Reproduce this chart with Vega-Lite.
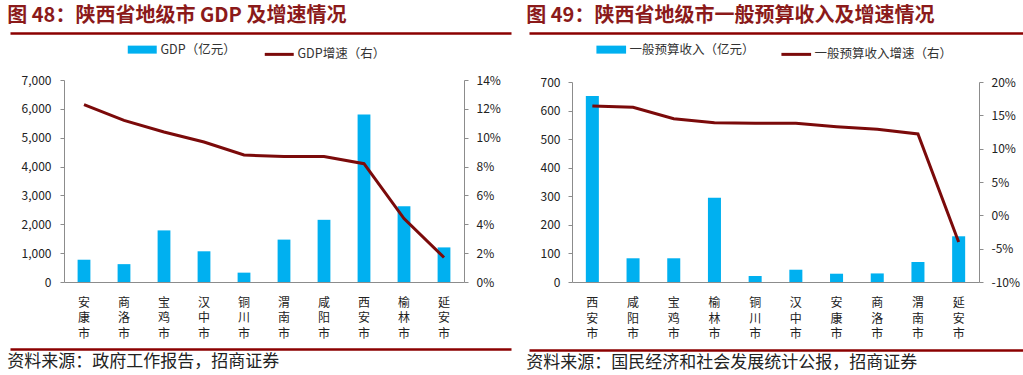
{
  "$schema": "https://vega.github.io/schema/vega-lite/v6.json",
  "padding": {"left": 7, "top": 5, "right": 0, "bottom": 0},
  "background": "white",
  "spacing": 12,
  "resolve": {"scale": {"color": "independent"}, "legend": {"color": "independent"}},
  "config": {
    "view": {"stroke": null},
    "font": "Noto Sans CJK SC",
    "axis": {"grid": false, "labelColor": "#222", "domainColor": "#8c8c8c", "tickColor": "#8c8c8c", "labelFontSize": 12, "titleFontSize": 12},
    "legend": {"layout": {"top": {"anchor": "middle"}}}
  },
  "hconcat": [
    {
      "columns": 1,
      "align": "none",
      "spacing": 7,
      "resolve": {"scale": {"color": "independent"}, "legend": {"color": "independent"}},
      "concat": [
        {
          "width": 501,
          "height": 1,
          "title": {"text": "图 48：陕西省地级市 GDP 及增速情况", "anchor": "start", "fontSize": 20, "color": "#8B1A1A", "fontWeight": "bold", "offset": 4},
          "data": {"values": [{"v": 0}, {"v": 1}]},
          "mark": {"type": "point", "opacity": 0},
          "encoding": {"x": {"field": "v", "type": "quantitative", "scale": {"domain": [0, 1], "nice": false}, "axis": {"domainColor": "#8B0000", "domainWidth": 2.5, "ticks": false, "labels": false, "title": null}}}
        },
        {
          "width": 501,
          "height": 202,
          "data": {"values": [
            {"city": "安康市", "gdp": 772, "growth": 0.123},
            {"city": "商洛市", "gdp": 619, "growth": 0.112},
            {"city": "宝鸡市", "gdp": 1788, "growth": 0.104},
            {"city": "汉中市", "gdp": 1064, "growth": 0.097},
            {"city": "铜川市", "gdp": 324, "growth": 0.088},
            {"city": "渭南市", "gdp": 1469, "growth": 0.087},
            {"city": "咸阳市", "gdp": 2155, "growth": 0.087},
            {"city": "西安市", "gdp": 5801, "growth": 0.082},
            {"city": "榆林市", "gdp": 2621, "growth": 0.044},
            {"city": "延安市", "gdp": 1199, "growth": 0.017}
          ]},
          "encoding": {"x": {"field": "city", "type": "nominal", "sort": null, "scale": {"range": [54, 454], "paddingInner": 0, "paddingOuter": 0},
            "axis": {"title": null, "ticks": false, "labelAngle": 0, "labelExpr": "split(datum.label, '')", "labelLineHeight": 15.5, "labelPadding": 15, "labelBaseline": "top", "labelFontSize": 12}}},
          "layer": [
            {
              "mark": {"type": "bar", "width": {"band": 0.32}},
              "encoding": {
                "y": {"field": "gdp", "type": "quantitative", "scale": {"domain": [0, 7000]},
                  "axis": {"title": null, "offset": -54, "values": [0, 1000, 2000, 3000, 4000, 5000, 6000, 7000], "format": ",.0f", "tickSize": 4, "labelPadding": 9}},
                "color": {"datum": "GDP（亿元）", "scale": {"domain": ["GDP（亿元）", "GDP增速（右）"], "range": ["#00B0F0", "#7B0A0A"]},
                  "legend": {"orient": "top", "title": null, "direction": "horizontal", "symbolType": "stroke", "symbolSize": 840, "labelFontSize": 12.5, "labelColor": "#333", "columnPadding": 22, "labelOffset": 12, "offset": 14.5,
                    "encode": {"symbols": {"update": {"stroke": {"signal": "datum.value === 'GDP（亿元）' ? '#00B0F0' : '#7B0A0A'"}, "strokeWidth": {"signal": "datum.value === 'GDP（亿元）' ? 8 : 3"}, "fill": {"value": "transparent"}, "strokeCap": {"value": "butt"}}}}}}
              }
            },
            {
              "mark": {"type": "line", "strokeWidth": 3},
              "encoding": {
                "y": {"field": "growth", "type": "quantitative", "scale": {"domain": [0, 0.14]},
                  "axis": {"title": null, "orient": "right", "offset": -47, "values": [0, 0.02, 0.04, 0.06, 0.08, 0.1, 0.12, 0.14], "format": ".0%", "tickSize": 4, "labelPadding": 8}},
                "color": {"datum": "GDP增速（右）"}
              }
            }
          ],
          "resolve": {"scale": {"y": "independent"}}
        },
        {
          "width": 501,
          "height": 1,
          "title": {"text": "资料来源：政府工作报告，招商证券", "orient": "bottom", "anchor": "start", "fontSize": 17, "color": "#222", "fontWeight": "normal", "offset": 2},
          "data": {"values": [{"v": 0}, {"v": 1}]},
          "mark": {"type": "point", "opacity": 0},
          "encoding": {"x": {"field": "v", "type": "quantitative", "scale": {"domain": [0, 1], "nice": false}, "axis": {"orient": "top", "domainColor": "#8B0000", "domainWidth": 2.5, "ticks": false, "labels": false, "title": null}}}
        }
      ]
    },
    {
      "columns": 1,
      "align": "none",
      "spacing": 7,
      "resolve": {"scale": {"color": "independent"}, "legend": {"color": "independent"}},
      "concat": [
        {
          "width": 500,
          "height": 1,
          "title": {"text": "图 49：陕西省地级市一般预算收入及增速情况", "anchor": "start", "fontSize": 20, "color": "#8B1A1A", "fontWeight": "bold", "offset": 4},
          "data": {"values": [{"v": 0}, {"v": 1}]},
          "mark": {"type": "point", "opacity": 0},
          "encoding": {"x": {"field": "v", "type": "quantitative", "scale": {"domain": [0, 1], "nice": false}, "axis": {"domainColor": "#8B0000", "domainWidth": 2.5, "ticks": false, "labels": false, "title": null}}}
        },
        {
          "width": 500,
          "height": 200,
          "data": {"values": [
            {"city": "西安市", "rev": 651, "growth": 0.164},
            {"city": "咸阳市", "rev": 83, "growth": 0.162},
            {"city": "宝鸡市", "rev": 83, "growth": 0.145},
            {"city": "榆林市", "rev": 295, "growth": 0.139},
            {"city": "铜川市", "rev": 21, "growth": 0.138},
            {"city": "汉中市", "rev": 43, "growth": 0.138},
            {"city": "安康市", "rev": 29, "growth": 0.133},
            {"city": "商洛市", "rev": 30, "growth": 0.129},
            {"city": "渭南市", "rev": 70, "growth": 0.122},
            {"city": "延安市", "rev": 160, "growth": -0.04}
          ]},
          "encoding": {"x": {"field": "city", "type": "nominal", "sort": null, "scale": {"range": [43, 450], "paddingInner": 0, "paddingOuter": 0},
            "axis": {"title": null, "ticks": false, "labelAngle": 0, "labelExpr": "split(datum.label, '')", "labelLineHeight": 15.5, "labelPadding": 15.5, "labelBaseline": "top", "labelFontSize": 12}}},
          "layer": [
            {
              "mark": {"type": "bar", "width": {"band": 0.32}},
              "encoding": {
                "y": {"field": "rev", "type": "quantitative", "scale": {"domain": [0, 700]},
                  "axis": {"title": null, "offset": -43, "values": [0, 100, 200, 300, 400, 500, 600, 700], "tickSize": 4, "labelPadding": 8}},
                "color": {"datum": "一般预算收入（亿元）", "scale": {"domain": ["一般预算收入（亿元）", "一般预算收入增速（右）"], "range": ["#00B0F0", "#7B0A0A"]},
                  "legend": {"orient": "top", "title": null, "direction": "horizontal", "symbolType": "stroke", "symbolSize": 880, "labelFontSize": 12.5, "labelColor": "#333", "columnPadding": 20, "labelOffset": 12, "offset": 16,
                    "encode": {"symbols": {"update": {"stroke": {"signal": "datum.value === '一般预算收入（亿元）' ? '#00B0F0' : '#7B0A0A'"}, "strokeWidth": {"signal": "datum.value === '一般预算收入（亿元）' ? 8 : 3"}, "fill": {"value": "transparent"}, "strokeCap": {"value": "butt"}}}}}}
              }
            },
            {
              "mark": {"type": "line", "strokeWidth": 3},
              "encoding": {
                "y": {"field": "growth", "type": "quantitative", "scale": {"domain": [-0.1, 0.2]},
                  "axis": {"title": null, "orient": "right", "offset": -50, "values": [-0.1, -0.05, 0, 0.05, 0.1, 0.15, 0.2], "format": ".0%", "labelExpr": "replace(datum.label, '−', '-')", "tickSize": 4, "labelPadding": 8}},
                "color": {"datum": "一般预算收入增速（右）"}
              }
            }
          ],
          "resolve": {"scale": {"y": "independent"}}
        },
        {
          "width": 500,
          "height": 1,
          "title": {"text": "资料来源：国民经济和社会发展统计公报，招商证券", "orient": "bottom", "anchor": "start", "fontSize": 17, "color": "#222", "fontWeight": "normal", "offset": 2},
          "data": {"values": [{"v": 0}, {"v": 1}]},
          "mark": {"type": "point", "opacity": 0},
          "encoding": {"x": {"field": "v", "type": "quantitative", "scale": {"domain": [0, 1], "nice": false}, "axis": {"orient": "top", "domainColor": "#8B0000", "domainWidth": 2.5, "ticks": false, "labels": false, "title": null}}}
        }
      ]
    }
  ]
}
